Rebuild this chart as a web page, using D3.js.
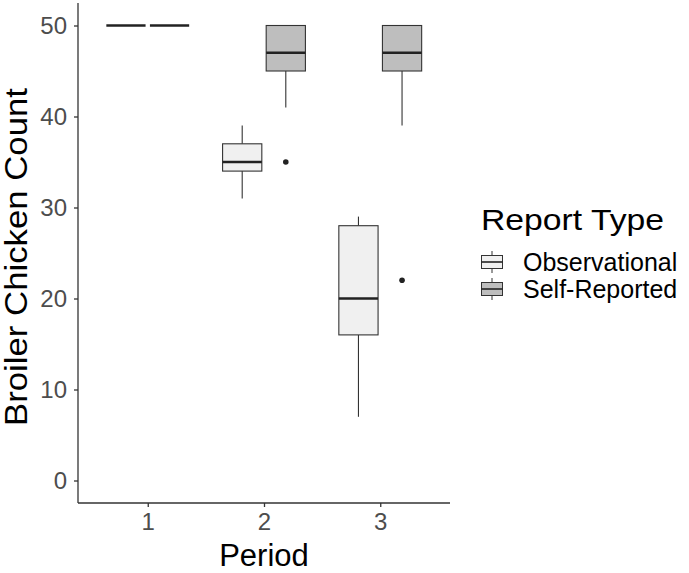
<!DOCTYPE html>
<html><head><meta charset="utf-8">
<script src="https://cdn.jsdelivr.net/npm/d3@7"></script>
<style>body{margin:0;background:#fff}svg{display:block}text{font-family:Arial,"Liberation Sans",sans-serif}</style>
</head><body><svg id="c" width="689" height="573"></svg>
<script>
const periods = ["1","2","3"];
const types = ["Observational","Self-Reported"];
const colors = ["#f0f0f0","#bebebe"];
// per period, per type: [whiskerLow, q1, median, q3, whiskerHigh]
const obsStats = [[50,50,50,50,50],[31,34,35,37,39],[7,16,20,28,29]];
const selfStats = [[50,50,50,50,50],[41,45,47,50,50],[39,45,47,50,50]];
const obsOutliers = [[],[],[]];
const selfOutliers = [[],[35],[22]];
const yTicks = [0,10,20,30,40,50];

const svg = d3.select("#c");
const x = d3.scaleLinear().domain([0.4,3.6]).range([78,450]);
const y = d3.scaleLinear().domain([0,50]).range([480.5,25.5]);

const g = svg.append("g");
// axes
const yAxis = d3.axisLeft(y).tickValues(yTicks).tickSize(4).tickPadding(7);
const ya = svg.append("g").attr("transform","translate(78,0)").call(yAxis);
ya.select(".domain").attr("d","M0,3V503");
const xAxis = d3.axisBottom(x).tickValues([1,2,3]).tickFormat((d,i)=>periods[i]).tickSize(4).tickPadding(6);
const xa = svg.append("g").attr("transform","translate(0,503)").call(xAxis);
xa.select(".domain").attr("d","M78,0H450");
[ya,xa].forEach(a=>{
  a.attr("font-family",null);
  a.selectAll(".domain").attr("stroke","#333").attr("stroke-width",1.3);
  a.selectAll(".tick line").attr("stroke","#333").attr("stroke-width",1.3);
  a.selectAll(".tick text").attr("fill","#4d4d4d").attr("font-size",24);
});

const allStats = [obsStats, selfStats];
const allOut = [obsOutliers, selfOutliers];
const offs = [-0.1875, 0.1875];
const bw = 0.3375;
for (let t=0;t<2;t++){
  for (let p=0;p<3;p++){
    const s = allStats[t][p];
    const cx = p+1+offs[t];
    const x0 = x(cx-bw/2), x1 = x(cx+bw/2), xc = x(cx);
    const bg = g.append("g");
    bg.append("line").attr("x1",xc).attr("x2",xc).attr("y1",y(s[3])).attr("y2",y(s[4])).attr("stroke","#333").attr("stroke-width",1.1);
    bg.append("line").attr("x1",xc).attr("x2",xc).attr("y1",y(s[0])).attr("y2",y(s[1])).attr("stroke","#333").attr("stroke-width",1.1);
    bg.append("rect").attr("x",x0).attr("width",x1-x0).attr("y",y(s[3])).attr("height",y(s[1])-y(s[3]))
      .attr("fill",colors[t]).attr("stroke","#333").attr("stroke-width",1.1);
    bg.append("line").attr("x1",x0).attr("x2",x1).attr("y1",y(s[2])).attr("y2",y(s[2])).attr("stroke","#222").attr("stroke-width",2.4);
    allOut[t][p].forEach(v=>{
      bg.append("circle").attr("cx",xc).attr("cy",y(v)).attr("r",2.8).attr("fill","#222");
    });
  }
}

// axis titles
svg.append("text").attr("x",264).attr("y",566).attr("text-anchor","middle").attr("font-size",31).attr("fill","#000").text("Period");
svg.append("text").attr("transform","translate(27,257) rotate(-90)").attr("text-anchor","middle").attr("font-size",31)
  .attr("textLength",338).attr("lengthAdjust","spacingAndGlyphs").attr("fill","#000").text("Broiler Chicken Count");

// legend
svg.append("text").attr("x",481).attr("y",230).attr("font-size",30)
  .attr("textLength",183).attr("lengthAdjust","spacingAndGlyphs").attr("fill","#000").text("Report Type");
types.forEach((tp,i)=>{
  const kc = 262 + i*27;
  const lg = svg.append("g");
  lg.append("line").attr("x1",492).attr("x2",492).attr("y1",kc-11).attr("y2",kc+11).attr("stroke","#333").attr("stroke-width",1);
  lg.append("rect").attr("x",481.5).attr("y",kc-6.5).attr("width",21).attr("height",13).attr("fill",colors[i]).attr("stroke","#333").attr("stroke-width",1);
  lg.append("line").attr("x1",481.5).attr("x2",502.5).attr("y1",kc).attr("y2",kc).attr("stroke","#222").attr("stroke-width",1.6);
  lg.append("text").attr("x",523).attr("y",kc+9).attr("font-size",25).attr("fill","#000").text(tp);
});
</script></body></html>
